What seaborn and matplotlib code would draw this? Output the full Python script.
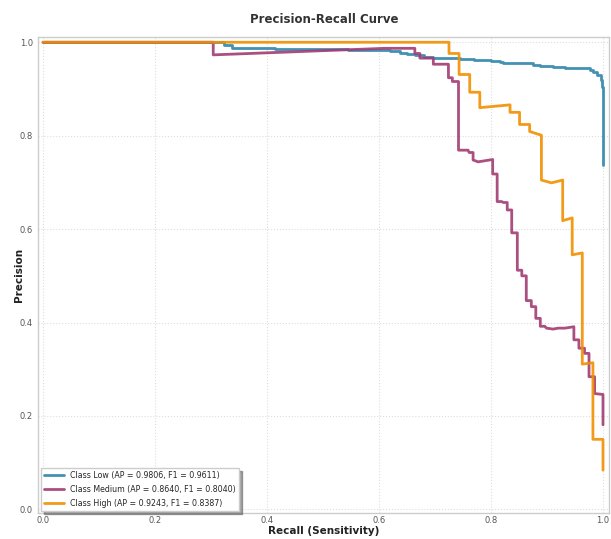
import matplotlib
matplotlib.use("Agg")
import matplotlib.pyplot as plt
import seaborn as sns

# set a theme
sns.set_theme(style="whitegrid")
plt.rcParams['font.family'] = ['DejaVu Sans']

# data (recall, precision pairs in plotting order)
recall_low = [0.0, 0.323, 0.323, 0.338, 0.338, 0.415, 0.415, 0.545, 0.545, 0.605, 0.605,
              0.62, 0.62, 0.638, 0.638, 0.65, 0.65, 0.664, 0.664, 0.68, 0.68, 0.697, 0.697,
              0.745, 0.745, 0.77, 0.77, 0.80, 0.80, 0.816, 0.816, 0.822, 0.822, 0.875, 0.875,
              0.887, 0.887, 0.911, 0.911, 0.932, 0.932, 0.976, 0.976, 0.983, 0.983, 0.99, 0.99,
              0.996, 0.996, 0.999, 0.999, 1.0, 1.0]
precision_low = [1.0, 1.0, 0.994, 0.994, 0.988, 0.988, 0.986, 0.986, 0.984, 0.984, 0.983,
                 0.983, 0.981, 0.981, 0.978, 0.978, 0.975, 0.975, 0.972, 0.972, 0.969, 0.969, 0.967,
                 0.967, 0.964, 0.964, 0.962, 0.962, 0.960, 0.960, 0.957, 0.957, 0.955, 0.955, 0.952,
                 0.952, 0.950, 0.950, 0.947, 0.947, 0.945, 0.945, 0.941, 0.941, 0.936, 0.936, 0.929,
                 0.929, 0.920, 0.920, 0.905, 0.905, 0.737]

recall_med = [0.0, 0.304, 0.304, 0.61, 0.664, 0.664, 0.673, 0.673, 0.697, 0.697, 0.724, 0.724,
              0.731, 0.731, 0.742, 0.742, 0.759, 0.761, 0.768, 0.768, 0.777, 0.803, 0.803, 0.811,
              0.811, 0.819, 0.822, 0.829, 0.829, 0.837, 0.837, 0.847, 0.847, 0.855, 0.855, 0.863,
              0.863, 0.872, 0.872, 0.880, 0.880, 0.888, 0.888, 0.896, 0.899, 0.911, 0.920, 0.932,
              0.948, 0.948, 0.957, 0.957, 0.967, 0.967, 0.975, 0.975, 0.985, 0.985, 1.0, 1.0]
precision_med = [1.0, 1.0, 0.973, 0.987, 0.987, 0.976, 0.976, 0.966, 0.966, 0.953, 0.953, 0.924,
                 0.924, 0.916, 0.916, 0.769, 0.769, 0.764, 0.764, 0.748, 0.744, 0.749, 0.718, 0.718,
                 0.659, 0.659, 0.657, 0.657, 0.641, 0.641, 0.592, 0.592, 0.512, 0.512, 0.500, 0.500,
                 0.447, 0.447, 0.434, 0.434, 0.409, 0.409, 0.392, 0.392, 0.388, 0.386, 0.388, 0.388,
                 0.391, 0.363, 0.363, 0.345, 0.345, 0.334, 0.334, 0.284, 0.284, 0.248, 0.246, 0.181]

recall_high = [0.0, 0.725, 0.725, 0.743, 0.743, 0.762, 0.762, 0.780, 0.780, 0.834, 0.834, 0.851,
               0.851, 0.869, 0.869, 0.890, 0.890, 0.908, 0.928, 0.928, 0.945, 0.945, 0.963, 0.963,
               0.982, 0.982, 1.0, 1.0]
precision_high = [1.0, 1.0, 0.976, 0.976, 0.931, 0.931, 0.893, 0.893, 0.860, 0.866, 0.850, 0.850,
                  0.824, 0.824, 0.809, 0.801, 0.705, 0.699, 0.705, 0.618, 0.624, 0.545, 0.549, 0.311,
                  0.314, 0.150, 0.150, 0.084]

labels = ["Class Low (AP = 0.9806, F1 = 0.9611)",
          "Class Medium (AP = 0.8640, F1 = 0.8040)",
          "Class High (AP = 0.9243, F1 = 0.8387)"]
colors = ["#2E86AB", "#A23B72", "#F18F01"]

fig = plt.figure(figsize=(6.11, 5.39), dpi=100)
ax = fig.add_axes([0.063, 0.048, 0.934, 0.884])

curves = [(recall_low, precision_low), (recall_med, precision_med), (recall_high, precision_high)]
for (r, p), lab, c in zip(curves, labels, colors):
    sns.lineplot(x=r, y=p, sort=False, estimator=None, color=c, linewidth=2, alpha=0.9,
                 label=lab, ax=ax)

ax.set_xlim(-0.008, 1.011)
ax.set_ylim(-0.008, 1.012)
ax.set_xticks([0.0, 0.2, 0.4, 0.6, 0.8, 1.0])
ax.set_yticks([0.0, 0.2, 0.4, 0.6, 0.8, 1.0])
ax.tick_params(axis="both", labelsize=6, colors="#555555", length=0)
ax.tick_params(axis="x", pad=2)
ax.tick_params(axis="y", pad=4)
ax.grid(True, linestyle=":", color="#dddddd", linewidth=0.8)
for s in ax.spines.values():
    s.set_color("#cccccc")
    s.set_linewidth(1)

ax.set_title("Precision-Recall Curve", fontsize=8.5, fontweight="bold", pad=10, color="#333333")
ax.set_xlabel("Recall (Sensitivity)", fontsize=7.5, fontweight="bold", color="#222222")
ax.set_ylabel("Precision", fontsize=7.5, fontweight="bold", color="#222222")
ax.xaxis.set_label_coords(0.5, -0.026)
ax.yaxis.set_label_coords(-0.025, 0.5)

leg = ax.legend(loc="lower left", fontsize=5.7, frameon=True, shadow=True, fancybox=False,
                framealpha=1, handlelength=2.5, borderaxespad=0.3, labelspacing=0.6)
leg.get_frame().set_edgecolor("#cccccc")

fig.savefig("out.png", dpi=100)
